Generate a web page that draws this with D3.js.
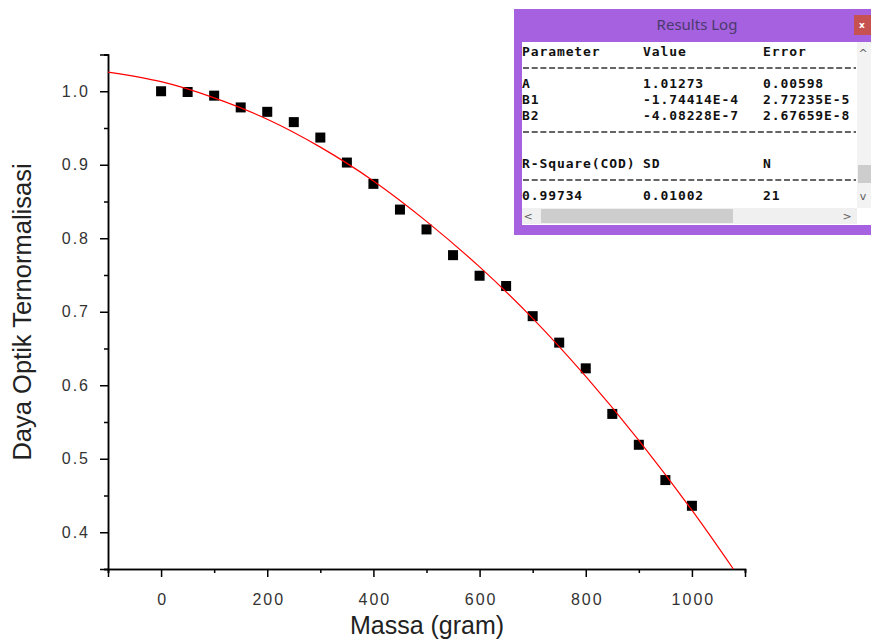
<!DOCTYPE html>
<html>
<head>
<meta charset="utf-8">
<script src="https://cdn.jsdelivr.net/npm/d3@7"></script>
<style>
  body { margin: 0; background: #fff; }
  svg { display: block; }
</style>
</head>
<body>
<svg width="871" height="640"></svg>
<script>
// measured points: mass (gram) vs normalised optical power
var massa = [0, 50, 100, 150, 200, 250, 300, 350, 400, 450, 500,
  550, 600, 650, 700, 750, 800, 850, 900, 950, 1000];
var dayaOptik = [1.000, 0.999, 0.994, 0.978, 0.972, 0.958, 0.937, 0.903, 0.874, 0.839, 0.812,
  0.777, 0.749, 0.735, 0.694, 0.658, 0.623, 0.561, 0.519, 0.471, 0.436];

// red fit line
var fitX = [-100, 0, 100, 200, 300, 400, 500, 600, 700, 800, 900, 1000, 1078];
var fitY = [1.026, 1.013, 0.991, 0.962, 0.924, 0.878, 0.823, 0.761, 0.691, 0.612, 0.525, 0.430, 0.350];

var xMajor = [0, 200, 400, 600, 800, 1000];
var xMinor = [-100, 100, 300, 500, 700, 900, 1100];
var yMajor = [0.4, 0.5, 0.6, 0.7, 0.8, 0.9, 1.0];
var yMinor = [0.35, 0.45, 0.55, 0.65, 0.75, 0.85, 0.95, 1.05];

// results log text
var logHeader = ["Parameter", "Value", "Error"];
var logParams = [
  ["A", "1.01273", "0.00598"],
  ["B1", "-1.74414E-4", "2.77235E-5"],
  ["B2", "-4.08228E-7", "2.67659E-8"]
];
var statsHeader = ["R-Square(COD)", "SD", "N"];
var statsRow = ["0.99734", "0.01002", "21"];

var svg = d3.select("svg");

var x = d3.scaleLinear().domain([-100, 1100]).range([108, 745]);
var y = d3.scaleLinear().domain([0.35, 1.05]).range([569, 54.5]);

var plot = svg.append("g");

// axes
var xAxis = plot.append("g").attr("transform", "translate(0,569)");
xAxis.call(d3.axisBottom(x).tickValues(xMajor).tickSize(8).tickFormat(d3.format("d")));
xAxis.append("g").call(d3.axisBottom(x).tickValues(xMinor).tickSize(4).tickFormat(""));

var yAxis = plot.append("g").attr("transform", "translate(108,0)");
yAxis.call(d3.axisLeft(y).tickValues(yMajor).tickSize(8).tickFormat(d3.format(".1f")));
yAxis.append("g").call(d3.axisLeft(y).tickValues(yMinor).tickSize(4).tickFormat(""));

plot.selectAll(".domain").attr("stroke", "#000").attr("stroke-width", 1.5);
plot.selectAll(".tick line").attr("stroke", "#000").attr("stroke-width", 1.5);

xAxis.selectAll(".tick text")
  .attr("y", 25)
  .attr("dy", "0.71em")
  .attr("dx", "1px")
  .style("font-family", "'Liberation Sans', Arial, sans-serif")
  .style("font-size", "16px")
  .style("letter-spacing", "2px")
  .attr("fill", "#333");
yAxis.selectAll(".tick text")
  .attr("x", -18)
  .style("font-family", "'Liberation Sans', Arial, sans-serif")
  .style("font-size", "16px")
  .style("letter-spacing", "2px")
  .attr("fill", "#333");

// axis titles
svg.append("text")
  .attr("x", 427)
  .attr("y", 634)
  .attr("text-anchor", "middle")
  .style("font-family", "'Liberation Sans', Arial, sans-serif")
  .style("font-size", "25px")
  .attr("fill", "#222")
  .text("Massa (gram)");
svg.append("text")
  .attr("transform", "translate(31,312) rotate(-90)")
  .attr("text-anchor", "middle")
  .style("font-family", "'Liberation Sans', Arial, sans-serif")
  .style("font-size", "25.5px")
  .attr("fill", "#222")
  .text("Daya Optik Ternormalisasi");

// data squares
var points = massa.map(function(m, i) { return { x: m, y: dayaOptik[i] }; });
plot.selectAll(".pt")
  .data(points)
  .enter()
  .append("rect")
  .attr("class", "pt")
  .attr("x", function(d) { return x(d.x) - 5; })
  .attr("y", function(d) { return y(d.y) - 5; })
  .attr("width", 10)
  .attr("height", 10)
  .attr("fill", "#000");

// fit line
var fit = fitX.map(function(v, i) { return [v, fitY[i]]; });
var line = d3.line()
  .x(function(d) { return x(d[0]); })
  .y(function(d) { return y(d[1]); })
  .curve(d3.curveNatural);
plot.append("path")
  .datum(fit)
  .attr("d", line)
  .attr("fill", "none")
  .attr("stroke", "#ff0000")
  .attr("stroke-width", 1.2);

// results log window
var win = svg.append("g");
win.append("rect").attr("x", 514).attr("y", 9).attr("width", 360).attr("height", 226).attr("fill", "#a561df");
win.append("text")
  .attr("x", 697).attr("y", 30)
  .attr("text-anchor", "middle")
  .style("font-family", "'Noto Sans', 'Open Sans', sans-serif")
  .style("font-size", "15px")
  .attr("fill", "#4b3a6e")
  .text("Results Log");
win.append("rect").attr("x", 854).attr("y", 15).attr("width", 20).attr("height", 20).attr("fill", "#c75050");
win.append("text")
  .attr("x", 862).attr("y", 28)
  .attr("text-anchor", "middle")
  .style("font-family", "'DejaVu Sans', sans-serif")
  .style("font-size", "9px")
  .style("font-weight", "bold")
  .attr("fill", "#fff")
  .text("x");

win.append("rect").attr("x", 522).attr("y", 42).attr("width", 352).attr("height", 183).attr("fill", "#fff");

// scrollbars
win.append("rect").attr("x", 857).attr("y", 42).attr("width", 17).attr("height", 166).attr("fill", "#f3f3f3");
win.append("rect").attr("x", 858).attr("y", 165).attr("width", 16).attr("height", 18).attr("fill", "#cdcdcd");
win.append("rect").attr("x", 522).attr("y", 208).attr("width", 335).attr("height", 16).attr("fill", "#f0f0f0");
win.append("rect").attr("x", 541).attr("y", 209).attr("width", 192).attr("height", 14).attr("fill", "#cdcdcd");

var arrows = [["^", 863, 57], ["v", 863, 200], ["<", 528, 220], [">", 847, 220]];
win.selectAll(".arrow")
  .data(arrows)
  .enter()
  .append("text")
  .attr("class", "arrow")
  .attr("x", function(d) { return d[1]; })
  .attr("y", function(d) { return d[2]; })
  .attr("text-anchor", "middle")
  .style("font-family", "'DejaVu Sans', sans-serif")
  .style("font-size", "11px")
  .attr("fill", "#606060")
  .text(function(d) { return d[0]; });

// log text, 16px line grid
var colX = [522, 643, 763];
var rows = [
  { line: 0, cells: logHeader },
  { line: 2, cells: logParams[0] },
  { line: 3, cells: logParams[1] },
  { line: 4, cells: logParams[2] },
  { line: 7, cells: statsHeader },
  { line: 9, cells: statsRow }
];
rows.forEach(function(r) {
  r.cells.forEach(function(c, j) {
    win.append("text")
      .attr("x", colX[j])
      .attr("y", 56 + r.line * 16)
      .style("font-family", "'DejaVu Sans Mono', monospace")
      .style("font-size", "13px")
      .style("font-weight", "bold")
      .style("letter-spacing", "0.9px")
      .attr("fill", "#111")
      .text(c);
  });
});
[1, 5, 8].forEach(function(l) {
  win.append("line")
    .attr("x1", 523).attr("x2", 856)
    .attr("y1", 52 + l * 16).attr("y2", 52 + l * 16)
    .attr("stroke", "#333")
    .attr("stroke-width", 1.3)
    .attr("stroke-dasharray", "6,2.7");
});
</script>
</body>
</html>
